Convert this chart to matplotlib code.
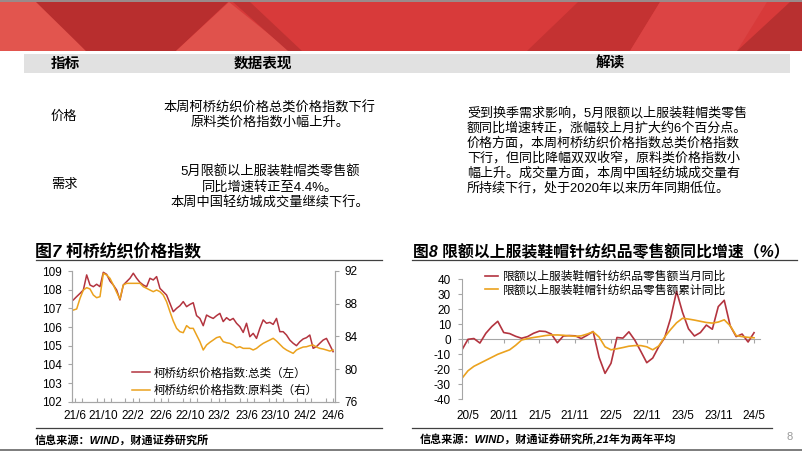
import matplotlib
matplotlib.use("Agg")
import matplotlib.pyplot as plt
import matplotlib.dates as mdates
from matplotlib.patches import Polygon, Rectangle
import numpy as np
import pandas as pd

plt.rcParams['font.family'] = ['Liberation Sans', 'Noto Sans CJK SC']
plt.rcParams['axes.unicode_minus'] = False

W, H = 802, 451
RED = "#B3343F"
ORANGE = "#EBA21E"
GRID_GRAY = "#A6A6A6"

# ---- table text ----
header = ["指标", "数据表现", "解读"]
row_names = ["价格", "需求"]
price_text = ["本周柯桥纺织价格总类价格指数下行", "原料类价格指数小幅上升。"]
demand_text = ["5月限额以上服装鞋帽类零售额", "同比增速转正至4.4%。", "本周中国轻纺城成交量继续下行。"]
comment_text = [
    "受到换季需求影响，5月限额以上服装鞋帽类零售",
    "额同比增速转正，涨幅较上月扩大约6个百分点。",
    "价格方面，本周柯桥纺织价格指数总类价格指数",
    "下行，但同比降幅双双收窄，原料类价格指数小",
    "幅上升。成交量方面，本周中国轻纺城成交量有",
    "所持续下行，处于2020年以来历年同期低位。",
]

# ---- fig 7: Keqiao textile price index (biweekly readings) ----
kq_total = [107.45, 107.63, 107.80, 107.98, 108.79, 108.25, 108.16, 108.29, 108.16, 108.93,
            108.82, 108.46, 108.25, 107.98, 107.45, 108.25, 108.43, 108.61, 108.88, 108.61,
            108.39, 108.25, 108.16, 108.61, 108.52, 108.70, 108.07, 107.89, 107.71, 107.27,
            106.82, 107.00, 107.14, 107.36, 107.09, 107.21, 107.30, 106.61, 106.46, 106.07,
            106.64, 106.54, 106.46, 106.61, 106.73, 106.29, 106.50, 106.36, 106.46, 106.20,
            106.02, 105.71, 106.20, 105.48, 105.66, 105.39, 105.93, 106.38, 106.20, 106.25,
            106.14, 106.46, 105.75, 105.75, 105.57, 105.30, 105.13, 105.00, 105.21, 105.36,
            105.43, 105.57, 104.86, 104.95, 105.13, 105.30, 105.39, 105.04, 104.68]
kq_raw = [87.22, 87.35, 88.65, 89.67, 89.96, 89.80, 89.06, 88.73, 88.86, 91.71,
          91.51, 91.10, 90.29, 89.39, 88.57, 90.29, 90.49, 90.49, 90.49, 90.49,
          90.49, 90.08, 89.88, 89.67, 89.47, 89.67, 89.47, 89.06, 88.24, 87.02,
          85.88, 84.98, 84.57, 84.45, 85.31, 84.98, 84.98, 84.16, 83.35, 82.33,
          82.94, 83.27, 83.55, 83.84, 83.96, 83.35, 83.22, 83.14, 82.94, 82.61,
          82.73, 82.53, 82.53, 82.53, 82.33, 82.53, 82.86, 83.14, 83.35, 83.55,
          83.76, 83.43, 83.02, 82.61, 82.33, 82.12, 81.92, 82.33, 82.53, 82.69,
          82.73, 82.86, 82.94, 82.69, 82.53, 82.45, 82.33, 82.20, 82.33]
kq_dates = pd.date_range("2021-05-25", "2024-06-01", periods=len(kq_total))
kq_labels = ["21/6", "21/10", "22/2", "22/6", "22/10", "23/2", "23/6", "23/10", "24/2", "24/6"]
kq_tick_dates = pd.date_range("2021-06-01", "2024-06-01", freq="4MS")
kq_legend = ["柯桥纺织价格指数:总类（左）", "柯桥纺织价格指数:原料类（右）"]

# ---- fig 8: apparel retail sales yoy (monthly, 2020/4 - 2024/5) ----
retail_months = pd.period_range("2020-04", "2024-05", freq="M")
retail_month_yoy = [-7, 0, 0.5, -2.5, 4, 8.5, 12, 4.5, 3.8, 2,
                    0.7, 1.8, 4, 5.5, 5.2, 3.5, -2.3, 2.2, 2.5, 2.3,
                    0.5, 2.7, 5.2, -12, -22.7, -16, 1.2, 0.8, 5, -0.6,
                    -8, -15.6, -12.5, -5, 1, 14, 32, 18, 7, 2.2,
                    4.5, 9.5, 6.7, 21.8, 26, 9, 1.8, 3.5, -1.8, 4.4]
retail_cum_yoy = [-26, -21, -18, -16, -14, -12, -10, -8.5, -7, -4,
                  -0.5, 0.5, 1.2, 1.8, 2.5, 2.9, 2.9, 2.7, 2.3, 2,
                  2.3, 3.5, 5, 1.5, -5, -7, -6.3, -5.5, -4.6, -4.2,
                  -4.2, -5, -7, -4.5, 1.5, 6.5, 11, 14, 13.5, 12.8,
                  12, 11.2, 10.8, 11.5, 13, 9, 2.5, 1.8, 1.3, 1.0]
retail_legend = ["限额以上服装鞋帽针纺织品零售额当月同比", "限额以上服装鞋帽针纺织品零售额累计同比"]

fig = plt.figure(figsize=(W / 100, H / 100), dpi=100)

# background layer in pixel coordinates
bg = fig.add_axes([0, 0, 1, 1], zorder=-1)
bg.set_xlim(0, W)
bg.set_ylim(H, 0)
bg.axis("off")

# red banner
bg.add_patch(Rectangle((0, 0), W, 51, color="#D83A3A", lw=0))
bg.add_patch(Polygon([(0, 2), (40, 2), (86, 51), (0, 51)], color="#E2554E", lw=0))
bg.add_patch(Polygon([(36, 2), (228, 2), (176, 51), (86, 51)], color="#B82E2E", lw=0))
bg.add_patch(Polygon([(176, 51), (229, 2), (290, 51)], color="#E0524C", lw=0))
bg.add_patch(Polygon([(233, 2), (250, 2), (302, 51), (288, 51)], color="#BE3232", lw=0))
bg.add_patch(Polygon([(527, 51), (578, 2), (660, 2), (630, 51)], color="#C43232", lw=0))
bg.add_patch(Polygon([(660, 2), (767, 2), (737, 51), (630, 51)], color="#DC4444", lw=0))
bg.add_patch(Polygon([(737, 51), (790, 2), (802, 2), (802, 51)], color="#B83030", lw=0))
bg.add_patch(Rectangle((0, 0), W, 2, color="#9A8A8A", lw=0))

# table header band
bg.add_patch(Rectangle((24, 54), 766, 19, color="#E1E1E1", lw=0))
for txt, x in zip(header, [65, 263, 610]):
    bg.text(x, 64, txt, ha="center", va="center", fontsize=10.5, fontweight="bold")

bg.text(51, 117, row_names[0], ha="left", va="center", fontsize=9.5)
bg.text(51, 185, row_names[1], ha="left", va="center", fontsize=9.5)
for txt, y in zip(price_text, [108, 122]):
    bg.text(270, y, txt, ha="center", va="center", fontsize=9.5)
for txt, y in zip(demand_text, [172, 187, 203]):
    bg.text(270, y, txt, ha="center", va="center", fontsize=9.5)
for i, txt in enumerate(comment_text):
    bg.text(467, 113 + 15 * i, txt, ha="left", va="center", fontsize=9.4)

# chart titles, rules, sources
bg.text(35, 252, "图7 柯桥纺织价格指数", ha="left", va="center", fontsize=12.2,
        fontweight="bold", style="italic")
bg.text(413, 252, "图8 限额以上服装鞋帽针纺织品零售额同比增速（%）", ha="left", va="center",
        fontsize=11.4, fontweight="bold", style="italic")
bg.plot([36, 382], [260, 260], color="#404040", lw=0.9)
bg.plot([412, 797], [260, 260], color="#404040", lw=0.9)
bg.plot([36, 382], [428, 428], color="#404040", lw=0.9)
bg.plot([412, 772], [428, 428], color="#404040", lw=0.9)
bg.text(35, 440, "信息来源：WIND，财通证券研究所", ha="left", va="center", fontsize=8,
        fontweight="bold", style="italic")
bg.text(420, 440, "信息来源：WIND，财通证券研究所,21年为两年平均", ha="left", va="center",
        fontsize=8, fontweight="bold", style="italic")
bg.text(790, 437, "8", ha="center", va="center", fontsize=8, color="#9A9A9A")
bg.add_patch(Rectangle((0, 448.5), W, 2.5, color="#7F7F7F", lw=0))

# ---- left chart ----
ax1 = fig.add_axes([71.7 / W, 1 - 401.7 / H, (335 - 71.7) / W, (401.7 - 271) / H])
ax2 = ax1.twinx()
l1, = ax1.plot(kq_dates, kq_total, color=RED, lw=1.1)
l2, = ax2.plot(kq_dates, kq_raw, color=ORANGE, lw=1.1)
ax1.set_xlim(pd.Timestamp("2021-05-18"), pd.Timestamp("2024-06-09"))
ax1.set_ylim(102, 109)
ax2.set_ylim(76, 92)
ax1.set_yticks(np.arange(102, 110, 1))
ax2.set_yticks(np.arange(76, 93, 4))
ax1.set_xticks(kq_tick_dates)
ax1.set_xticklabels(kq_labels)
ax1.xaxis.set_minor_locator(mdates.MonthLocator(bymonth=range(1, 13, 2)))
for a in (ax1, ax2):
    a.spines["top"].set_visible(False)
    for s in ("left", "right", "bottom"):
        a.spines[s].set_color(GRID_GRAY)
        a.spines[s].set_linewidth(0.8)
    a.tick_params(axis="y", direction="out", length=3, width=0.8, color=GRID_GRAY,
                  labelsize=8.5, pad=4)
ax1.tick_params(axis="x", which="both", direction="in", length=3, width=0.8,
                color=GRID_GRAY, labelsize=8.5, pad=6)
ax2.legend([l1, l2], kq_legend, loc="upper left", bbox_to_anchor=(0.229, 0.262),
           frameon=False, fontsize=8.3, handlelength=1.6, handletextpad=0.3,
           labelspacing=0.5, borderpad=0, borderaxespad=0)

# ---- right chart ----
idx = np.arange(len(retail_months))
ax3 = fig.add_axes([462 / W, 1 - 399.3 / H, (760 - 462) / W, 120 / H])
m1, = ax3.plot(idx, retail_month_yoy, color=RED, lw=1.2)
m2, = ax3.plot(idx, retail_cum_yoy, color=ORANGE, lw=1.2)
ax3.set_xlim(0, 50)
ax3.set_ylim(-40, 40)
ax3.set_yticks(np.arange(-40, 41, 10))
tick_idx = [i for i, p in enumerate(retail_months) if p.month in (5, 11)]
ax3.set_xticks(tick_idx)
ax3.set_xticklabels([f"{p.year % 100}/{p.month}" for p in retail_months[tick_idx]])
for s in ("top", "right", "bottom"):
    ax3.spines[s].set_visible(False)
ax3.spines["left"].set_color(GRID_GRAY)
ax3.spines["left"].set_linewidth(0.8)
ax3.tick_params(axis="y", direction="out", length=3, width=0.8, color=GRID_GRAY,
                labelsize=8.5, pad=5)
ax3.tick_params(axis="x", length=0, labelsize=8.5, pad=8)
zero_ax = ax3.secondary_xaxis(0.5)
zero_ax.set_alignment("bottom")
zero_ax.set_xticks(tick_idx)
zero_ax.tick_params(axis="x", direction="out", length=3, width=0.8, color=GRID_GRAY,
                    labelbottom=False, labeltop=False)
zero_ax.spines["bottom"].set_color(GRID_GRAY)
zero_ax.spines["bottom"].set_linewidth(0.8)
ax3.legend([m1, m2], retail_legend, loc="upper left", bbox_to_anchor=(0.077, 1.069),
           frameon=False, fontsize=8.5, handlelength=1.1, handletextpad=0.4,
           labelspacing=0.1, borderpad=0, borderaxespad=0)

fig.savefig("out.png", dpi=100)
